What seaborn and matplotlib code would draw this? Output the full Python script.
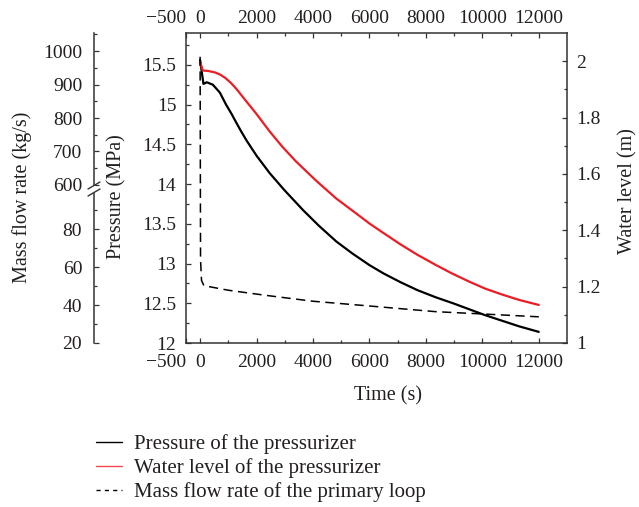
import numpy as np
import pandas as pd
import matplotlib
matplotlib.use("Agg")
import matplotlib.pyplot as plt
import seaborn as sns
from matplotlib.lines import Line2D
from matplotlib.ticker import FixedLocator

# ---------------- data ----------------
time_pressure = [0, 118, 235, 450, 700, 918, 1100, 1270, 1450, 1650, 2000, 2470, 3000,
                 3650, 4200, 4830, 5400, 6000, 6500, 7100, 7700, 8350, 9000, 9530,
                 10100, 10700, 11300, 12000]
pressure = [15.56, 15.26, 15.28, 15.25, 15.15, 15.00, 14.891, 14.78, 14.665, 14.545,
            14.356, 14.135, 13.918, 13.671, 13.478, 13.276, 13.125, 12.98, 12.875,
            12.765, 12.665, 12.575, 12.495, 12.425, 12.35, 12.28, 12.21, 12.14]

time_level = [0, 95, 300, 530, 700, 900, 1100, 1300, 1600, 1980, 2470, 2900, 3390, 4100,
              4820, 5500, 6000, 6500, 7100, 7700, 8350, 8900, 9530, 10100, 10700,
              11300, 12000]
water_level = [1.997, 1.967, 1.965, 1.960, 1.953, 1.940, 1.922, 1.900, 1.862, 1.815,
               1.750, 1.698, 1.645, 1.577, 1.513, 1.462, 1.424, 1.390, 1.350, 1.313,
               1.277, 1.248, 1.218, 1.193, 1.172, 1.153, 1.135]

time_flow = [0, 15, 50, 135, 1000, 2330, 4000, 6000, 8350, 10000, 12000]
mass_flow = [983, 64, 53, 50.2, 47.8, 45.1, 42.0, 39.5, 36.5, 35.3, 33.8]

x_ticks = [-500, 0, 2000, 4000, 6000, 8000, 10000, 12000]
x_ticklabels = ["\u2212500", "0", "2000", "4000", "6000", "8000", "10000", "12000"]
p_ticks = [12, 12.5, 13, 13.5, 14, 14.5, 15, 15.5]
p_ticklabels = ["12", "12.5", "13", "13.5", "14", "14.5", "15", "15.5"]
w_ticks = [1, 1.2, 1.4, 1.6, 1.8, 2.0]
w_ticklabels = ["1", "1.2", "1.4", "1.6", "1.8", "2"]
m_ticks = [20, 40, 60, 80, 600, 700, 800, 900, 1000]
m_ticklabels = ["20", "40", "60", "80", "600", "700", "800", "900", "1000"]

legend_labels = ["Pressure of the pressurizer",
                 "Water level of the pressurizer",
                 "Mass flow rate of the primary loop"]

# broken mass-flow scale: knots of a piecewise-linear axis scale
flow_knots = [-1000, 20, 100, 600, 1100, 5000]
pos_knots = [-6.2475, 0.0, 0.49, 0.51, 1.05, 5.262]

df_p = pd.DataFrame({"t": time_pressure, "v": pressure})
df_w = pd.DataFrame({"t": time_level, "v": water_level})
df_m = pd.DataFrame({"t": time_flow, "v": mass_flow})

# ---------------- style ----------------
sns.set_theme(style="ticks")
plt.rcParams['font.family'] = ['Liberation Serif', 'DejaVu Serif']
plt.rcParams['font.size'] = 14
text_color = '#231f20'
spine_color = '#333333'
red = '#ed1c24'
plt.rcParams['text.color'] = text_color
plt.rcParams['axes.labelcolor'] = text_color
tick_fs = 14
label_fs = 14.5
legend_fs = 15

fig = plt.figure(figsize=(6.39, 5.07), dpi=100)
ax = fig.add_axes([186/639, (507-343)/507, 381/639, 310/507])
ax_r = ax.twinx()
ax_m = ax.twinx()
ax_t = ax.twiny()

for a in (ax, ax_r, ax_m, ax_t):
    a.set_facecolor('none')
    for s in a.spines.values():
        s.set_visible(False)
        s.set_color(spine_color)
        s.set_linewidth(1.1)
for s in ax.spines.values():
    s.set_visible(True)
ax_m.spines['left'].set_visible(True)

# ---------------- lines ----------------
sns.lineplot(data=df_p, x="t", y="v", ax=ax, color='black', lw=1.6, estimator=None, sort=False)
sns.lineplot(data=df_w, x="t", y="v", ax=ax_r, color=red, lw=1.6, estimator=None, sort=False)

ax_m.set_yscale('function', functions=(lambda v: np.interp(v, flow_knots, pos_knots),
                                       lambda p: np.interp(p, pos_knots, flow_knots)))
sns.lineplot(data=df_m, x="t", y="v", ax=ax_m, color='black', lw=1.1,
             linestyle=(0, (6, 3.6)), estimator=None, sort=False)

# ---------------- axes ----------------
xlim = (-500, 13000)
for a in (ax, ax_t):
    a.set_xlim(*xlim)
    a.set_xticks(x_ticks)
    a.set_xticklabels(x_ticklabels)
    a.xaxis.set_minor_locator(FixedLocator([1000, 3000, 5000, 7000, 9000, 11000]))
    for lab in a.get_xticklabels():
        if lab.get_text() == "\u2212500":
            lab.set_horizontalalignment('right')
ax_t.xaxis.set_ticks_position('top')

ax.set_ylim(12, 15.9)
ax.set_yticks(p_ticks)
ax.set_yticklabels(p_ticklabels)
ax.yaxis.set_minor_locator(FixedLocator(np.arange(12.25, 15.9, 0.5)))

ax_r.set_ylim(1, 2.1)
ax_r.set_yticks(w_ticks)
ax_r.set_yticklabels(w_ticklabels)
ax_r.yaxis.set_minor_locator(FixedLocator([1.1, 1.3, 1.5, 1.7, 1.9]))

ax_m.set_ylim(20, 1054)
ax_m.yaxis.set_ticks_position('left')
ax_m.yaxis.set_label_position('left')
ax_m.spines['left'].set_position(('outward', 66.2))
ax_m.set_yticks(m_ticks)
ax_m.set_yticklabels(m_ticklabels)
ax_m.yaxis.set_minor_locator(FixedLocator([30, 50, 70, 90, 650, 750, 850, 950, 1050]))

common = dict(direction='in', color=spine_color, labelcolor=text_color, labelsize=tick_fs)
ax.tick_params(axis='x', which='major', length=3.6, width=0.9, pad=8, bottom=True, top=False, **common)
ax.tick_params(axis='x', which='minor', length=2.2, width=0.9, bottom=True, top=False, **common)
ax_t.tick_params(axis='x', which='major', length=3.6, width=0.9, pad=4, top=True, bottom=False, labeltop=True, labelbottom=False, **common)
ax_t.tick_params(axis='x', which='minor', length=2.2, width=0.9, top=True, bottom=False, **common)
ax_t.tick_params(axis='y', left=False, right=False, labelleft=False, labelright=False)
ax.tick_params(axis='y', which='major', length=3.6, width=0.9, pad=7, left=True, right=False, **common)
ax.tick_params(axis='y', which='minor', length=2.2, width=0.9, left=True, right=False, **common)
ax_r.tick_params(axis='y', which='major', length=3.6, width=0.9, pad=6.5, right=True, left=False, **common)
ax_r.tick_params(axis='y', which='minor', length=2.2, width=0.9, right=True, left=False, **common)
ax_r.tick_params(axis='x', bottom=False, top=False, labelbottom=False)
ax_m.tick_params(axis='y', which='major', length=3.6, width=0.9, pad=8.5, left=True, right=False, **common)
ax_m.tick_params(axis='y', which='minor', length=2.2, width=0.9, left=True, right=False, **common)
ax_m.tick_params(axis='x', bottom=False, top=False, labelbottom=False)

ax.set_xlabel("Time (s)", fontsize=label_fs, va='center')
ax.xaxis.set_label_coords((388-186)/381, (343-396)/310)
ax.set_ylabel("Pressure (MPa)", fontsize=label_fs, va='center')
ax.yaxis.set_label_coords((117-186)/381, (343-197)/310)
ax_r.set_ylabel("Water level (m)", fontsize=label_fs, va='center')
ax_r.yaxis.set_label_coords((628-186)/381, (343-191)/310)
ax_m.set_ylabel("Mass flow rate (kg/s)", fontsize=label_fs, va='center')
ax_m.yaxis.set_label_coords((22-186)/381, (343-197)/310)
ax_r.set_xlabel("")
ax_m.set_xlabel("")
ax_t.set_xlabel("")

# break marks on the mass-flow spine
fig.add_artist(Line2D([94/639, 94/639], [1-185.5/507, 1-193/507], transform=fig.transFigure,
                      color='white', lw=3, solid_capstyle='butt'))
for yc in (185.5, 192.5):
    fig.add_artist(Line2D([88/639, 100/639], [1-(yc+3.5)/507, 1-(yc-3.5)/507],
                          transform=fig.transFigure, color=spine_color, lw=1.0))

# legend
handles = [Line2D([], [], color='black', lw=1.0),
           Line2D([], [], color=red, lw=1.0, alpha=0.8),
           Line2D([], [], color='black', lw=1.0, linestyle=(0, (3, 3)))]
fig.legend(handles, legend_labels, loc='upper left', bbox_to_anchor=(96/639, 1-434/507),
           frameon=False, handlelength=1.25, handletextpad=0.55, labelspacing=0.2,
           borderpad=0, borderaxespad=0, fontsize=legend_fs)

fig.savefig("out.png", dpi=100)
